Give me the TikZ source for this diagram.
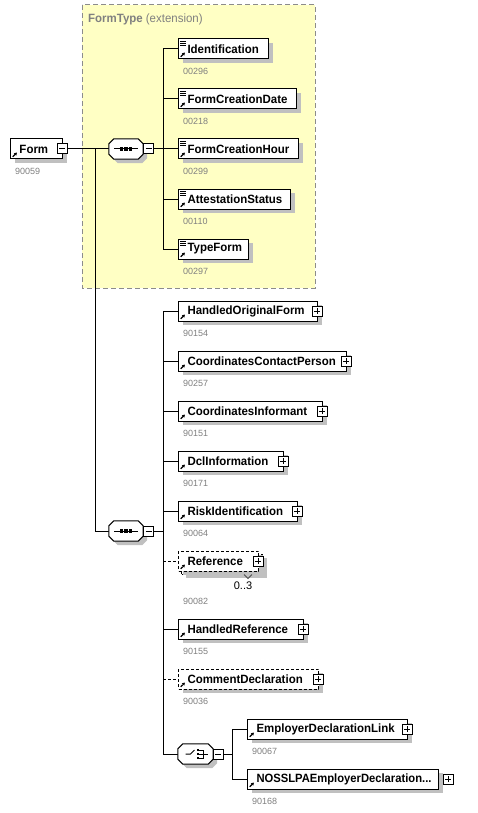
\documentclass[tikz,border=0pt]{standalone}
\usepackage{fontspec}
\usepackage{graphicx}
\setmainfont{Liberation Sans}
\usetikzlibrary{shadows,arrows.meta}
\definecolor{shadowgray}{HTML}{C0C0C0}
\definecolor{idgray}{HTML}{808080}
\definecolor{ftyellow}{HTML}{FFFFC4}
\definecolor{ftborder}{HTML}{8C8C8C}
\newcommand{\et}[1]{\hspace*{9pt}\scalebox{0.955}[1]{#1}}
\newcommand{\octapath}[3]{([shift={(#2+5pt,#3)}]#1.north west) -- ([shift={(#2-5pt,#3)}]#1.north east) -- ([shift={(#2,#3-5pt)}]#1.north east) -- ([shift={(#2,#3+5pt)}]#1.south east) -- ([shift={(#2-5pt,#3)}]#1.south east) -- ([shift={(#2+5pt,#3)}]#1.south west) -- ([shift={(#2,#3+5pt)}]#1.south west) -- ([shift={(#2,#3-5pt)}]#1.north west) -- cycle}
\newcommand{\drawocta}[1]{\fill[shadowgray] \octapath{#1}{4pt}{-4pt};
  \draw[line width=1pt, fill=white] \octapath{#1}{0pt}{0pt};}
\newcommand{\seqicon}[1]{\draw[line width=1pt] ([xshift=-12pt]#1.center) -- ([xshift=12pt]#1.center);
  \foreach \dx in {-4.5,0,4.5} \fill ([shift={(\dx pt-1.6pt,-1.6pt)}]#1.center) rectangle ++(3.2pt,3.2pt);}
\newcommand{\choiceicon}[1]{%
  \draw[line width=1pt] ([xshift=-10pt]#1.center) -- ++(5pt,0pt) -- ++(4pt,4pt);
  \foreach \dy in {4,0,-4} \fill ([shift={(1pt,\dy pt-1.3pt)}]#1.center) rectangle ++(2.6pt,2.6pt);
  \draw[line width=0.8pt] ([shift={(3.6pt,4pt)}]#1.center) -- ++(4pt,0pt) -- ++(0pt,-8pt) -- ++(-4pt,0pt)
        ([shift={(3.6pt,0pt)}]#1.center) -- ++(8.4pt,0pt);}
\tikzset{
  conn/.style={line width=1pt, draw=black},
  optconn/.style={conn, dash pattern=on 3pt off 2pt},
  shad/.style={drop shadow={shadow xshift=4pt, shadow yshift=-4pt, fill=shadowgray, opacity=1}},
  refarrow/.style={path picture={
      \draw[line width=1.1pt,-{Triangle[length=2.6pt,width=3.2pt]}]
        ([shift={(2.2pt,2.2pt)}]path picture bounding box.south west) -- ++(4.2pt,4.2pt);}},
  simpleicon/.style={path picture={
      \draw[line width=1.1pt,-{Triangle[length=2.6pt,width=3.2pt]}]
        ([shift={(2.2pt,2.2pt)}]path picture bounding box.south west) -- ++(4.2pt,4.2pt);
      \draw[line width=0.7pt]
        ([shift={(1.5pt,-2pt)}]path picture bounding box.north west) -- ++(6pt,0pt)
        ([shift={(1.5pt,-4pt)}]path picture bounding box.north west) -- ++(6pt,0pt)
        ([shift={(1.5pt,-6pt)}]path picture bounding box.north west) -- ++(6pt,0pt);}},
  elem/.style={draw, line width=1pt, fill=white, shad, minimum height=20pt,
    inner xsep=0pt, inner ysep=0pt, anchor=west, align=left, text width=#1,
    font=\fontsize{12}{14}\selectfont\bfseries, refarrow},
  optelem/.style={elem=#1, dash pattern=on 3pt off 2pt},
  pmbox/.style={draw, line width=1pt, fill=white, minimum size=10pt, inner sep=0pt},
  minusbox/.style={pmbox, path picture={
      \draw[line width=1pt] ([xshift=-3pt]path picture bounding box.center) -- ++(6pt,0pt);}},
  plusbox/.style={pmbox, path picture={
      \draw[line width=1pt] ([xshift=-3pt]path picture bounding box.center) -- ++(6pt,0pt)
                            ([yshift=-3pt]path picture bounding box.center) -- ++(0pt,6pt);}},
  octa/.style={draw=none, minimum width=34pt, minimum height=20pt, inner sep=0pt},
  idlabel/.style={anchor=west, text=idgray, inner sep=0pt, font=\fontsize{9}{10}\selectfont},
}
\begin{document}
\begin{tikzpicture}[x=1pt, y=-1pt]
\useasboundingbox (0,0) rectangle (477,813);
\fill[white] (0,0) rectangle (477,813);

% FormType extension box
\draw[ftborder, fill=ftyellow, line width=1pt, dash pattern=on 5pt off 3pt] (82,5) rectangle (315,288);
\node[anchor=west, inner sep=0pt, text=idgray, font=\fontsize{12}{14}\selectfont] (fttitle) at (88,19)
  {\scalebox{0.955}[1]{\textbf{FormType} (extension)}};

% Form root
\node[elem=52pt] (form) at (10,149) {\et{Form}};
\node[minusbox] (formpm) at (62,149) {};
\node[idlabel] (formid) at (15,171) {90059};

% sequence 1
\node[octa] (seq1) at (126,149) {};
\coordinate (trunk) at (95,149);
\coordinate (b1) at (163,149);
\draw[conn] (formpm.east) -- (seq1.west);
\drawocta{seq1}
\seqicon{seq1}
\node[minusbox] (seq1pm) at (148.5,149) {};
\draw[conn] (seq1pm.east) -- (b1);

% FormType children
\node[elem=90pt, simpleicon] (ident) at (178,49) {\et{Identification}};
\node[elem=118pt, simpleicon] (fcdate) at (178,99) {\et{FormCreationDate}};
\node[elem=120pt, simpleicon] (fchour) at (178,149) {\et{FormCreationHour}};
\node[elem=112pt, simpleicon] (attest) at (178,199) {\et{AttestationStatus}};
\node[elem=70pt, simpleicon] (typeform) at (178,249) {\et{TypeForm}};
\node[idlabel] (identid) at (183,71) {00296};
\node[idlabel] (fcdateid) at (183,121) {00218};
\node[idlabel] (fchourid) at (183,171) {00299};
\node[idlabel] (attestid) at (183,221) {00110};
\node[idlabel] (typeformid) at (183,271) {00297};
\foreach \n in {ident,fcdate,fchour,attest,typeform} \draw[conn] (b1) |- (\n.west);

% sequence 2
\node[octa] (seq2) at (126,531) {};
\coordinate (b2) at (163,531);
\draw[conn] (trunk) |- (seq2.west);
\drawocta{seq2}
\seqicon{seq2}
\node[minusbox] (seq2pm) at (148.5,531) {};
\draw[conn] (seq2pm.east) -- (b2);

% group 2 children
\node[elem=139pt] (hof) at (178,311) {\et{HandledOriginalForm}};
\node[plusbox] (hofpm) at (317,311) {};
\node[idlabel] (hofid) at (183,333) {90154};

\node[elem=168pt] (ccp) at (178,361) {\et{CoordinatesContactPerson}};
\node[plusbox] (ccppm) at (346,361) {};
\node[idlabel] (ccpid) at (183,383) {90257};

\node[elem=144pt] (ci) at (178,411) {\et{CoordinatesInformant}};
\node[plusbox] (cipm) at (322,411) {};
\node[idlabel] (ciid) at (183,433) {90151};

\node[elem=105pt] (dcl) at (178,461) {\et{DclInformation}};
\node[plusbox] (dclpm) at (283,461) {};
\node[idlabel] (dclid) at (183,483) {90171};

\node[elem=119pt] (risk) at (178,511) {\et{RiskIdentification}};
\node[plusbox] (riskpm) at (297,511) {};
\node[idlabel] (riskid) at (183,533) {90064};

\node[optelem=81pt] (refback) at (181,564) {\phantom{X}};
\node[optelem=80pt, drop shadow={opacity=0}] (ref) at (178,561) {\et{Reference}};
\node[plusbox] (refpm) at (258,561) {};
\draw[line width=0.8pt, draw=black!70] (244,574.5) -- (248,578.5) -- (252,574.5);
\node[inner sep=0pt, font=\fontsize{11}{12}\selectfont] (refocc) at (243,586) {0..3};
\node[idlabel] (refid) at (183,601) {90082};

\node[elem=125pt] (href) at (178,629) {\et{HandledReference}};
\node[plusbox] (hrefpm) at (303,629) {};
\node[idlabel] (hrefid) at (183,651) {90155};

\node[optelem=140pt] (cdecl) at (178,679) {\et{CommentDeclaration}};
\node[plusbox] (cdeclpm) at (318,679) {};
\node[idlabel] (cdeclid) at (183,701) {90036};

% choice
\node[octa, minimum width=35pt] (choice) at (195.5,754) {};
\coordinate (b3) at (232,754);

\foreach \n in {hof,ccp,ci,dcl,risk,href,choice} \draw[conn] (b2) |- (\n.west);
\draw[optconn] (ref.west -| b2) -- (ref.west);
\draw[optconn] (cdecl.west -| b2) -- (cdecl.west);
\drawocta{choice}
\choiceicon{choice}
\node[minusbox] (choicepm) at (218,754) {};
\draw[conn] (choicepm.east) -- (b3);

\node[elem=160pt] (edl) at (247,729) {\et{EmployerDeclarationLink}};
\node[plusbox] (edlpm) at (407,729) {};
\node[idlabel] (edlid) at (252,751) {90067};

\node[elem=191pt] (nosslpa) at (247,779) {\hspace*{9pt}\scalebox{0.935}[1]{NOSSLPAEmployerDeclaration...}};
\node[plusbox] (nosslpapm) at (448,779) {};
\node[idlabel] (nosslpaid) at (252,801) {90168};

\draw[conn] (b3) |- (edl.west);
\draw[conn] (b3) |- (nosslpa.west);
\end{tikzpicture}
\end{document}
